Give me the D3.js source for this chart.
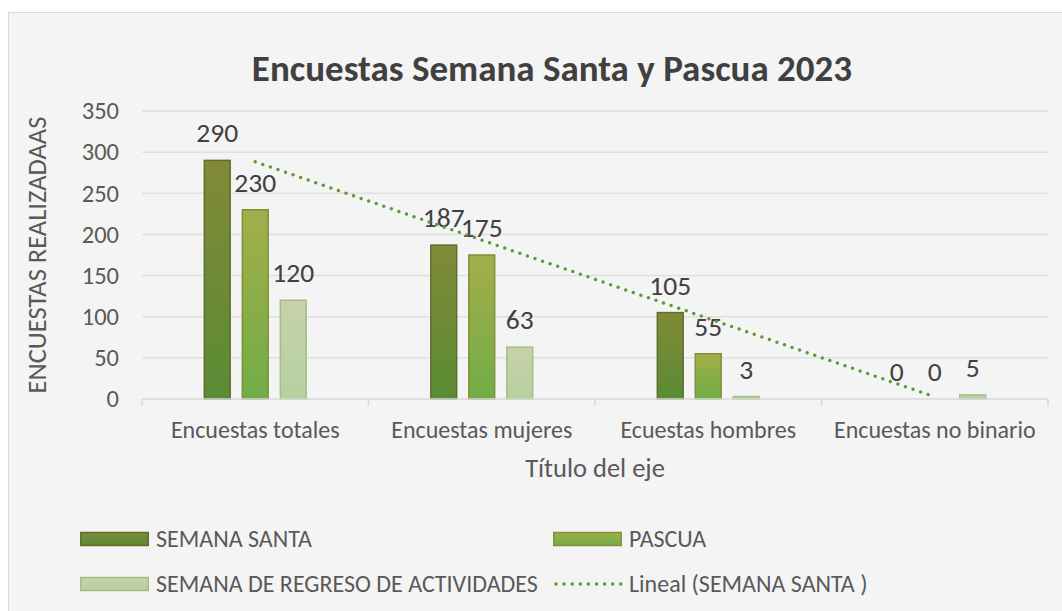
<!DOCTYPE html>
<html lang="es">
<head>
    <meta charset="UTF-8">
    <title>Encuestas Semana Santa y Pascua 2023</title>
    <script src="https://d3js.org/d3.v7.min.js"></script>
    <style>
        body { margin: 0; background: #fff; }
        svg { font-family: Carlito, Calibri, "Open Sans", sans-serif; }
    </style>
</head>
<body>
    <script>
        // Chart data
        const categories = ["Encuestas totales", "Encuestas mujeres", "Ecuestas hombres", "Encuestas no binario"];
        const seriesNames = ["SEMANA SANTA", "PASCUA", "SEMANA DE REGRESO DE ACTIVIDADES"];
        const semanaSanta = [290, 187, 105, 0];
        const pascua = [230, 175, 55, 0];
        const regreso = [120, 63, 3, 5];
        const yTicks = [0, 50, 100, 150, 200, 250, 300, 350];

        const seriesValues = [semanaSanta, pascua, regreso];
        const width = 1062, height = 611;

        const svg = d3.select("body").append("svg")
            .attr("width", width)
            .attr("height", height);

        // gradients for the bars
        const grads = [
            { id: "g0", top: "#818a37", bottom: "#5a8b35", stroke: "#5f6e2c" },
            { id: "g1", top: "#a3ae49", bottom: "#71ad47", stroke: "#80903b" },
            { id: "g2", top: "#c8d1aa", bottom: "#b4d1a0", stroke: "#a3bf86" }
        ];
        const defs = svg.append("defs");
        grads.forEach(g => {
            const lg = defs.append("linearGradient").attr("id", g.id)
                .attr("x1", 0).attr("y1", 0).attr("x2", 0).attr("y2", 1);
            lg.append("stop").attr("offset", "0%").attr("stop-color", g.top);
            lg.append("stop").attr("offset", "100%").attr("stop-color", g.bottom);
        });

        // chart frame
        svg.append("rect")
            .attr("x", 8.5).attr("y", 12.5)
            .attr("width", 1070).attr("height", 620)
            .attr("fill", "#f4f4f4")
            .attr("stroke", "#d9d9d9");

        // title
        svg.append("text")
            .attr("x", 552).attr("y", 81)
            .attr("text-anchor", "middle")
            .attr("font-size", 37)
            .attr("font-weight", "bold")
            .attr("fill", "#404040")
            .text("Encuestas Semana Santa y Pascua 2023");

        // scales
        const x0 = d3.scaleBand().domain(categories).range([142, 1048]);
        const bw = x0.bandwidth();
        const x1 = d3.scaleBand().domain(seriesNames)
            .range([bw / 2 - 57, bw / 2 + 57])
            .paddingInner(0.32).paddingOuter(0.16);
        const y = d3.scaleLinear().domain([0, 350]).range([399, 111]);

        // gridlines
        svg.append("g").selectAll("line")
            .data(yTicks.filter(d => d > 0))
            .join("line")
            .attr("x1", 142).attr("x2", 1048)
            .attr("y1", d => y(d)).attr("y2", d => y(d))
            .attr("stroke", "#e0e0e0")
            .attr("stroke-width", 1.5);

        // y tick labels
        svg.append("g").selectAll("text")
            .data(yTicks)
            .join("text")
            .attr("x", 119)
            .attr("y", d => y(d))
            .attr("dy", "0.34em")
            .attr("text-anchor", "end")
            .attr("font-size", 24.5)
            .attr("fill", "#595959")
            .text(d => d);

        // y axis title
        svg.append("text")
            .attr("transform", `translate(${46},${y(175)}) rotate(-90)`)
            .attr("text-anchor", "middle")
            .attr("font-size", 26.5)
            .attr("fill", "#595959")
            .text("ENCUESTAS REALIZADAAS");

        // bars
        const groups = svg.append("g").selectAll("g")
            .data(categories)
            .join("g")
            .attr("transform", d => `translate(${x0(d)},0)`);

        groups.selectAll("rect")
            .data((c, i) => seriesNames.map((s, j) => ({ s, j, v: seriesValues[j][i] })))
            .join("rect")
            .filter(d => d.v > 0)
            .attr("x", d => x1(d.s))
            .attr("y", d => y(d.v))
            .attr("width", x1.bandwidth())
            .attr("height", d => y(0) - y(d.v))
            .attr("fill", d => `url(#${grads[d.j].id})`)
            .attr("stroke", d => grads[d.j].stroke)
            .attr("stroke-width", 1.5);

        // x axis line and ticks
        const axis = svg.append("g");
        axis.append("line")
            .attr("x1", 142).attr("x2", 1048)
            .attr("y1", y(0)).attr("y2", y(0))
            .attr("stroke", "#d9d9d9").attr("stroke-width", 1.5);
        axis.selectAll(".tick")
            .data(categories.map(c => x0(c)).concat([x0.range()[1]]))
            .join("line")
            .attr("x1", d => d).attr("x2", d => d)
            .attr("y1", y(0)).attr("y2", y(0) + 7)
            .attr("stroke", "#d9d9d9").attr("stroke-width", 1.5);

        // category labels
        svg.append("g").selectAll("text")
            .data(categories)
            .join("text")
            .attr("x", d => x0(d) + bw / 2)
            .attr("y", 438)
            .attr("text-anchor", "middle")
            .attr("font-size", 24)
            .attr("fill", "#595959")
            .text(d => d);

        // x axis title
        svg.append("text")
            .attr("x", 595).attr("y", 477)
            .attr("text-anchor", "middle")
            .attr("font-size", 26.5)
            .attr("fill", "#595959")
            .text("Título del eje");

        // linear trendline for SEMANA SANTA (least squares)
        const n = semanaSanta.length;
        const mx = (n + 1) / 2;
        const my = d3.mean(semanaSanta);
        const slope = d3.sum(semanaSanta, (v, i) => (i + 1 - mx) * (v - my)) /
            d3.sum(semanaSanta, (v, i) => (i + 1 - mx) ** 2);
        const trend = categories.map((c, i) => ({ c, v: my + slope * (i + 1 - mx) }));
        svg.append("path")
            .datum([trend[0], trend[n - 1]])
            .attr("d", d3.line().x(d => x0(d.c) + bw / 2).y(d => y(d.v)))
            .attr("fill", "none")
            .attr("stroke", "#5a9b32")
            .attr("stroke-width", 3.5)
            .attr("stroke-linecap", "round")
            .attr("stroke-dasharray", "0 8");

        // data labels
        groups.selectAll("text")
            .data((c, i) => seriesNames.map((s, j) => ({ s, j, v: seriesValues[j][i] })))
            .join("text")
            .attr("x", d => x1(d.s) + x1.bandwidth() / 2)
            .attr("y", d => y(d.v) - 18)
            .attr("text-anchor", "middle")
            .attr("font-size", 27.5)
            .attr("fill", "#404040")
            .text(d => d.v);

        // legend
        const legendItems = [
            { label: "SEMANA SANTA", type: "bar", j: 0, x: 80, y: 539 },
            { label: "PASCUA", type: "bar", j: 1, x: 553, y: 539 },
            { label: "SEMANA DE REGRESO DE ACTIVIDADES", type: "bar", j: 2, x: 80, y: 584 },
            { label: "Lineal (SEMANA SANTA )", type: "line", x: 553, y: 584 }
        ];
        const legend = svg.append("g").selectAll("g")
            .data(legendItems)
            .join("g")
            .attr("transform", d => `translate(${d.x},${d.y})`);
        legend.filter(d => d.type === "bar").append("rect")
            .attr("x", 0.75).attr("y", -6.5)
            .attr("width", 67.5).attr("height", 13)
            .attr("fill", d => `url(#${grads[d.j].id})`)
            .attr("stroke", d => grads[d.j].stroke)
            .attr("stroke-width", 1.5);
        legend.filter(d => d.type === "line").append("line")
            .attr("x1", 3).attr("x2", 68)
            .attr("y1", 0).attr("y2", 0)
            .attr("stroke", "#5a9b32")
            .attr("stroke-width", 3.5)
            .attr("stroke-linecap", "round")
            .attr("stroke-dasharray", "0 8.1");
        legend.append("text")
            .attr("x", 76).attr("y", 0)
            .attr("dy", "0.34em")
            .attr("font-size", 24)
            .attr("fill", "#595959")
            .text(d => d.label);
    </script>
</body>
</html>
